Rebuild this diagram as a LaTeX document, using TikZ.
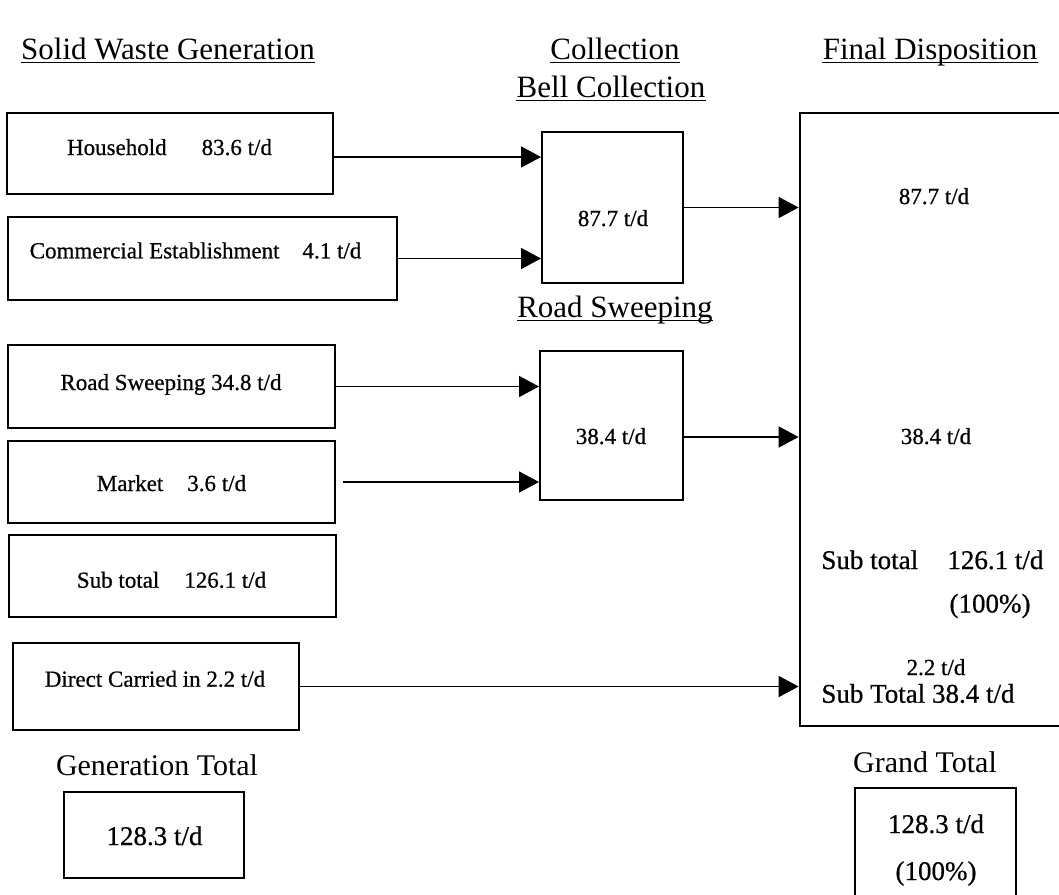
\documentclass[tikz,border=0pt]{standalone}
\usepackage{fontspec}
\setmainfont{Liberation Serif}
\newfontfamily\scanfont{Liberation Serif}[UprightFeatures={FakeBold=0.6}]
\usetikzlibrary{arrows.meta,calc}
\begin{document}
\begin{tikzpicture}[x=0.5pt,y=-0.5pt,
  box/.style={draw, line width=1pt, inner sep=0pt},
  bigbox/.style={draw, line width=1.4pt, inner sep=0pt},
  arr/.style={line width=0.85pt, -{Triangle[length=10pt,width=10.5pt]}},
  lbl/.style={inner sep=0pt, anchor=base, font=\scanfont\fontsize{11.5}{13}\selectfont},
  mid/.style={inner sep=0pt, anchor=base, font=\scanfont\fontsize{13.5}{16}\selectfont},
  ttl/.style={inner sep=0pt, anchor=base, font=\fontsize{15.5}{18}\selectfont},
  uline/.style={line width=0.8pt},
]
\useasboundingbox (0,0) rectangle (1059,894);
\clip (0,0) rectangle (1059,894);
\fill[white] (0,0) rectangle (1059,894);

% titles
\node[ttl] (tGen) at (168,59) {Solid Waste Generation};
\node[ttl] (tCol) at (615,59) {Collection};
\node[ttl] (tFin) at (930,59) {Final Disposition};
\node[ttl] (tBell) at (611,97) {Bell Collection};
\node[ttl] (tRoad) at (615,317) {Road Sweeping};
\foreach \n in {tGen,tCol,tFin,tBell,tRoad}{
  \draw[uline] ($(\n.base west)+(0,3.5)$) -- ($(\n.base east)+(0,3.5)$);
}

% generation boxes
\node[box, minimum width=163pt, minimum height=40.5pt] (hh) at (170,153.5) {};
\node[lbl] (hhT) at (169.5,155) {Household\hspace{17.5pt}83.6 t/d};
\node[box, minimum width=194.5pt, minimum height=41.5pt] (ce) at (202.5,258.5) {};
\node[lbl] (ceT) at (195.5,258.3) {Commercial Establishment\hspace{11.5pt}4.1 t/d};
\node[box, minimum width=163.5pt, minimum height=41.5pt] (rs) at (171.5,386.5) {};
\node[lbl] (rsT) at (171,390) {Road Sweeping 34.8 t/d};
\node[box, minimum width=163.5pt, minimum height=41pt] (mk) at (171.5,482) {};
\node[lbl] (mkT) at (171.5,491) {Market\hspace{12pt}3.6 t/d};
\node[box, minimum width=163.5pt, minimum height=41pt] (st) at (172.5,576) {};
\node[lbl] (stT) at (171.5,587.7) {Sub total\hspace{12.5pt}126.1 t/d};
\node[box, minimum width=143pt, minimum height=43.5pt] (dc) at (156,686.5) {};
\node[lbl] (dcT) at (155,686.7) {Direct Carried in 2.2 t/d};

\node[ttl, font=\fontsize{15}{18}\selectfont] (gtL) at (157,775) {Generation Total};
\node[box, minimum width=90pt, minimum height=43pt] (gt) at (154,835) {};
\node[mid] (gtT) at (154.5,845) {128.3 t/d};

% collection boxes
\node[box, minimum width=70.5pt, minimum height=75.5pt] (bell) at (612.5,207.5) {};
\node[lbl] (bellT) at (613,226) {87.7 t/d};
\node[box, minimum width=71.5pt, minimum height=74.5pt] (road) at (611.5,425.5) {};
\node[lbl] (roadT) at (611,444) {38.4 t/d};

% final disposition box (extends past the right edge)
\node[bigbox, minimum width=140pt, minimum height=306.5pt] (fin) at (940,419.5) {};
\node[lbl] (f1) at (934,204) {87.7 t/d};
\node[lbl] (f2) at (936,444) {38.4 t/d};
\node[mid, anchor=base west] (f3a) at (821,569) {Sub total};
\node[mid, anchor=base west] (f3b) at (947,569) {126.1 t/d};
\node[mid] (f4) at (990,612.5) {(100\%)};
\node[lbl] (f5) at (936,675) {2.2 t/d};
\node[mid, anchor=base west] (f6) at (821,702.7) {Sub Total 38.4 t/d};

\node[ttl, font=\fontsize{15}{18}\selectfont] (grL) at (925,772.7) {Grand Total};
\node[box, minimum width=80.5pt, minimum height=66pt] (gr) at (935.5,854) {};
\node[mid] (grT1) at (936,833) {128.3 t/d};
\node[mid] (grT2) at (936,880) {(100\%)};

% connectors
\coordinate (hhA) at ($(hh.east)+(0,3.5)$);
\coordinate (roadA) at ($(road.east)+(0,11.5)$);
\draw[arr] (hhA) -- (hhA -| bell.west);
\draw[arr] (ce.east) -- (ce.east -| bell.west);
\draw[arr] (rs.east) -- (rs.east -| road.west);
\draw[arr, shorten <=3.5pt] (mk.east) -- (mk.east -| road.west);
\draw[arr] (bell.east) -- (bell.east -| fin.west);
\draw[arr] (roadA) -- (roadA -| fin.west);
\draw[arr] (dc.east) -- (dc.east -| fin.west);
\end{tikzpicture}
\end{document}
